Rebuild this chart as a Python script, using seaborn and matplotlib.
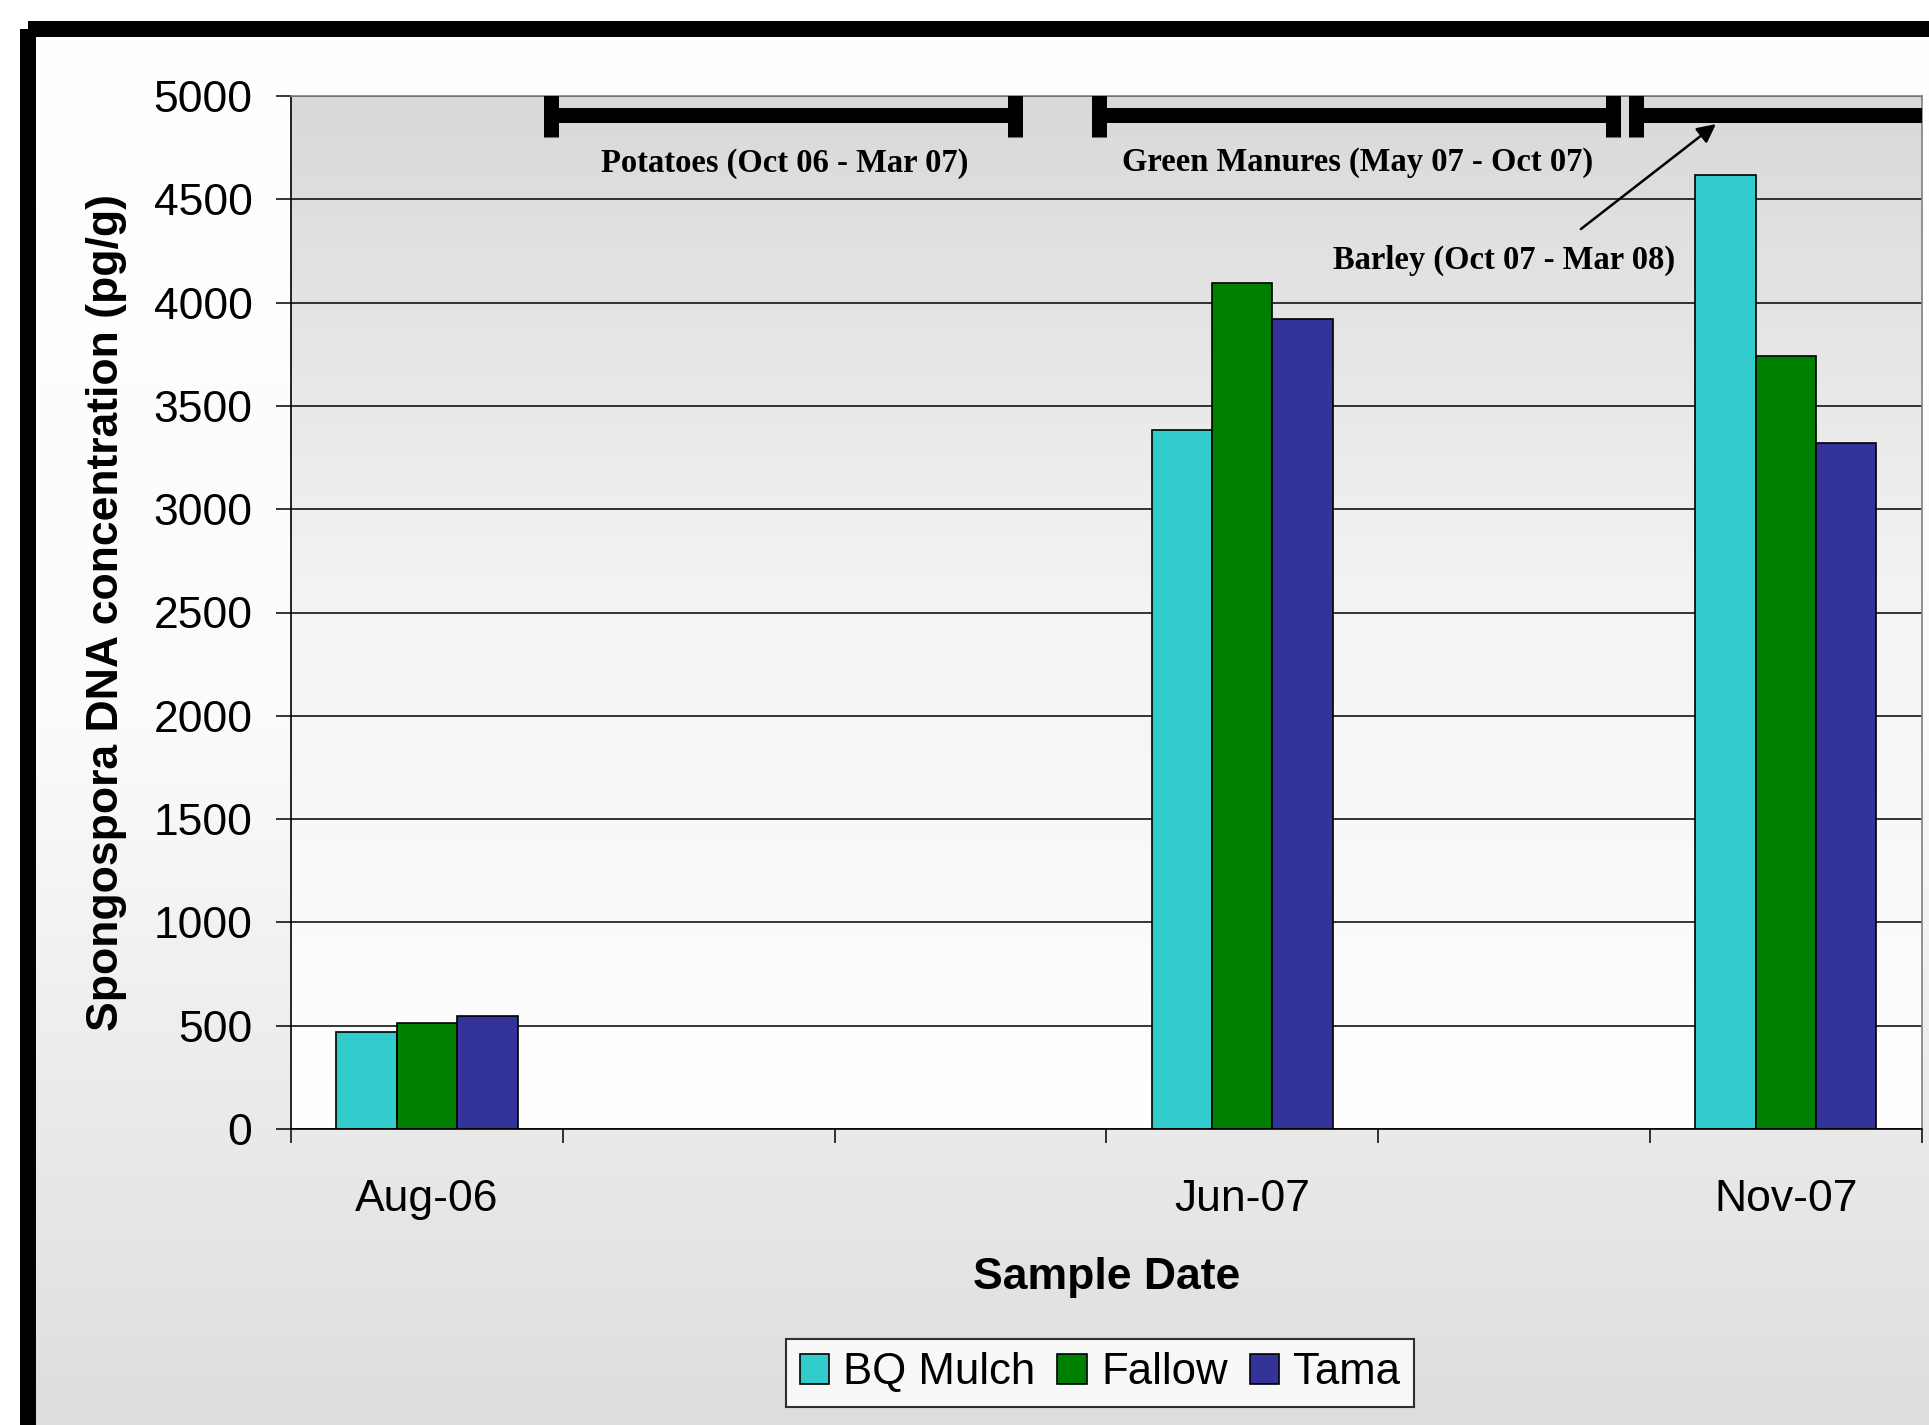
import numpy as np
import pandas as pd
import matplotlib
matplotlib.use("Agg")
import matplotlib.pyplot as plt
import seaborn as sns
from matplotlib.patches import Rectangle

sns.set_style("white")
plt.rcParams['font.family'] = ['Liberation Sans', 'DejaVu Sans']
plt.rcParams['text.color'] = 'black'
plt.rcParams['axes.labelcolor'] = 'black'
plt.rcParams['xtick.color'] = 'black'
plt.rcParams['ytick.color'] = 'black'

# ---------------- data ----------------
dates = ['Aug-06', 'Jun-07', 'Nov-07']
treatments = ['BQ Mulch', 'Fallow', 'Tama']
bq_mulch = [468, 3385, 4616]
fallow = [514, 4096, 3740]
tama = [545, 3922, 3319]

# category slots on the axis (empty slots between sample dates)
slots = ['Aug-06', 'gap1', 'gap2', 'Jun-07', 'gap3', 'Nov-07']
colors = ['#33CCCC', '#008000', '#333399']

# crop periods: (label, start, end) in axis slot units
periods = [('Potatoes (Oct 06 - Mar 07)', 0.458, 2.165),
           ('Green Manures (May 07 - Oct 07)', 2.472, 4.366),
           ('Barley (Oct 07 - Mar 08)', 4.450, 5.5)]

rows = []
for i, d in enumerate(dates):
    rows.append({'date': d, 'treatment': 'BQ Mulch', 'conc': bq_mulch[i]})
    rows.append({'date': d, 'treatment': 'Fallow', 'conc': fallow[i]})
    rows.append({'date': d, 'treatment': 'Tama', 'conc': tama[i]})
df = pd.DataFrame(rows)

# ---------------- figure ----------------
W, H = 1929, 1425
fig = plt.figure(figsize=(W / 100, H / 100), dpi=100)
fig.patch.set_facecolor('white')

# chart area background: gradient white -> light gray + black frame
bg = fig.add_axes([0, 0, 1, 1], zorder=-10)
grad = np.linspace(0, 1, 256).reshape(-1, 1)
cmap_bg = matplotlib.colors.LinearSegmentedColormap.from_list('bg', ['#FFFFFF', '#FBFBFB', '#DDDDDD'])
bg.imshow(grad, cmap=cmap_bg, aspect='auto', extent=[28, 1960, 1429, 29])
bg.add_patch(Rectangle((28, 29), 1960, 1400, fill=False, edgecolor='black', linewidth=11.5))
bg.set_xlim(0, W)
bg.set_ylim(H, 0)
bg.axis('off')

ax = fig.add_axes([291 / W, 1 - 1129 / H, (1921.7 - 291) / W, (1129 - 96) / H])
ax.set_facecolor('none')

sns.barplot(data=df, x='date', y='conc', hue='treatment', order=slots,
            hue_order=treatments, palette=colors, saturation=1, width=0.667,
            edgecolor='black', linewidth=1.2, errorbar=None, ax=ax, zorder=2)

# plot area gradient: gray at top -> white at bottom
cmap_pa = matplotlib.colors.LinearSegmentedColormap.from_list('pa', ['#FFFFFF', '#F4F4F4', '#D9D9D9'])
ax.imshow(grad, cmap=cmap_pa, aspect='auto', extent=[-0.5, 5.5, 0, 5000],
          origin='lower', zorder=-1)
ax.set_xlim(-0.5, 5.5)
ax.set_ylim(0, 5000)

# grid
ax.set_yticks(np.arange(0, 5001, 500))
ax.yaxis.grid(True, color='black', linewidth=1.1)
ax.set_axisbelow(True)

# spines
for s in ['left', 'bottom']:
    ax.spines[s].set_color('black')
    ax.spines[s].set_linewidth(1.2)
for s in ['top', 'right']:
    ax.spines[s].set_color('#808080')
    ax.spines[s].set_linewidth(1.2)

# ticks
ax.tick_params(axis='y', which='major', direction='out', length=10.8, width=1.1,
               color='black', labelcolor='black', labelsize=32, pad=17, left=True)
ax.set_xticks(np.arange(-0.5, 5.6, 1))
ax.set_xticklabels([''] * 7)
ax.tick_params(axis='x', which='major', direction='out', length=10, width=1.1,
               color='black', bottom=True)
ax.set_xticks([slots.index(d) for d in dates], minor=True)
ax.set_xticklabels(dates, minor=True)
ax.tick_params(axis='x', which='minor', length=0, labelsize=32, pad=36,
               labelcolor='black')

ax.set_xlabel('Sample Date', fontsize=32, fontweight='bold', labelpad=27,
              color='black')
ax.set_ylabel('Spongospora DNA concentration (pg/g)', fontsize=32,
              fontweight='bold', labelpad=19, color='black')

# crop period brackets
serif = ['Liberation Serif', 'DejaVu Serif']
for label, x0, x1 in periods:
    ax.hlines(4906, x0, x1, color='black', linewidth=10.8, capstyle='butt', zorder=4)
    ax.vlines(x0, 4800, 5050, color='black', linewidth=10.8, zorder=4)
    if x1 < 5.5:
        ax.vlines(x1, 4800, 5050, color='black', linewidth=10.8, zorder=4)

ax.text(1.316, 4675, periods[0][0], ha='center', va='center', fontsize=23.5,
        fontweight='bold', family=serif, color='black')
ax.text(3.423, 4680, periods[1][0], ha='center', va='center', fontsize=23.5,
        fontweight='bold', family=serif, color='black')
ax.text(3.963, 4206, periods[2][0], ha='center', va='center', fontsize=23.5,
        fontweight='bold', family=serif, color='black')
ax.annotate('', xy=(4.743, 4864), xytext=(4.246, 4356),
            arrowprops=dict(arrowstyle='-|>', color='black', lw=1.8,
                            mutation_scale=28, shrinkA=0, shrinkB=0))

# legend
handles, labels = ax.get_legend_handles_labels()
if ax.get_legend() is not None:
    ax.get_legend().remove()
leg = fig.legend(handles, labels, loc='center', bbox_to_anchor=(1100 / W, 1 - 1373 / H),
                 ncol=3, fontsize=31.5, frameon=True, fancybox=False, shadow=False,
                 handlelength=0.67, handleheight=0.67, handletextpad=0.33,
                 columnspacing=0.5, borderpad=0.3, borderaxespad=0)
leg.get_frame().set_edgecolor('black')
leg.get_frame().set_linewidth(1.5)
leg.get_frame().set_facecolor('white')
for t in leg.get_texts():
    t.set_color('black')

fig.savefig('out.png', dpi=100)
